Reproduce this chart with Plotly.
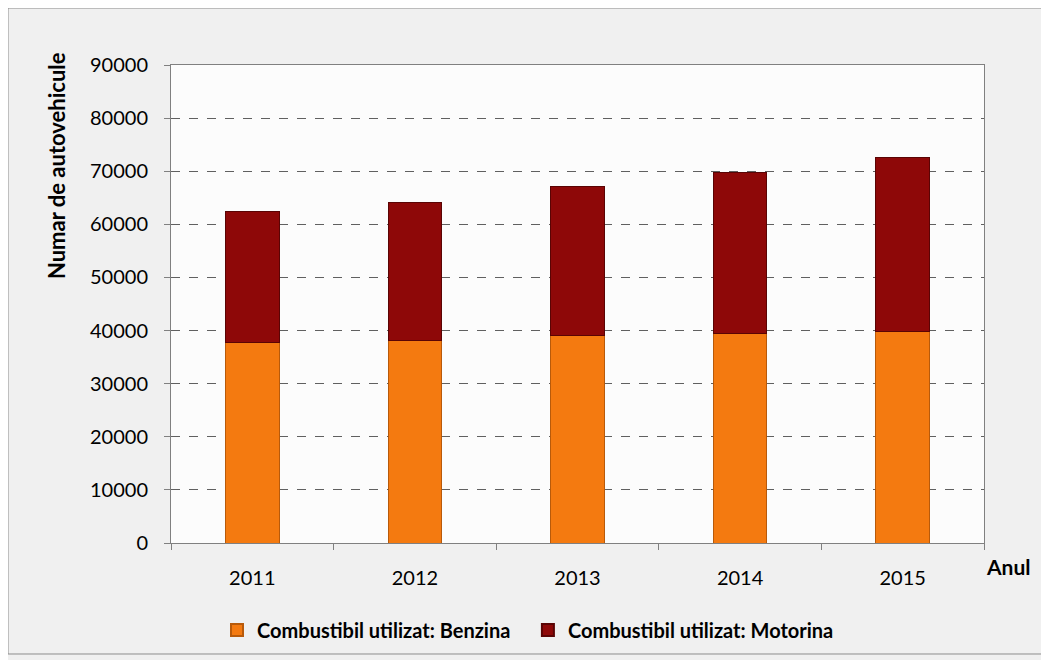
import plotly.graph_objects as go

years = ["2011", "2012", "2013", "2014", "2015"]
benzina = [37800, 38200, 39000, 39500, 39900]
motorina = [24700, 26000, 28200, 30350, 32600]
y_ticks = [0, 10000, 20000, 30000, 40000, 50000, 60000, 70000, 80000, 90000]

FONT = "Lato"

fig = go.Figure()
fig.add_trace(go.Bar(
    x=years, y=benzina, name="Combustibil utilizat: Benzina",
    marker=dict(color="#F47A10", line=dict(color="#B85A0A", width=1)),
    width=0.33, legend="legend",
))
fig.add_trace(go.Bar(
    x=years, y=motorina, name="Combustibil utilizat: Motorina",
    marker=dict(color="#8E0808", line=dict(color="#5A0404", width=1)),
    width=0.33, legend="legend2",
))

legend_font = dict(family=FONT, size=20, color="#000000", weight="bold")

# page body adds an 8px offset, margins compensate for it
fig.update_layout(
    barmode="stack",
    width=1049, height=660,
    margin=dict(l=163, r=73, t=57, b=125, autoexpand=False),
    paper_bgcolor="#F0F0F0",
    plot_bgcolor="#FCFCFC",
    font=dict(family=FONT, size=20, color="#000000"),
    showlegend=True,
    legend=dict(orientation="h", x=0.0566, y=-0.182, xanchor="left", yanchor="middle",
                font=legend_font, bgcolor="rgba(0,0,0,0)", itemsizing="constant",
                itemwidth=30),
    legend2=dict(orientation="h", x=0.439, y=-0.182, xanchor="left", yanchor="middle",
                 font=legend_font, bgcolor="rgba(0,0,0,0)", itemsizing="constant",
                 itemwidth=30),
    xaxis=dict(
        type="category", showgrid=False, ticks="outside", tickson="boundaries",
        ticklen=6, tickcolor="#808080", showline=True, linecolor="#808080", linewidth=1,
        mirror=True, tickfont=dict(family=FONT, size=20), ticklabelstandoff=17,
    ),
    yaxis=dict(
        range=[0, 90000], tickvals=y_ticks, ticktext=[str(v) for v in y_ticks],
        showgrid=True, gridcolor="#606060", griddash="dash", gridwidth=1,
        ticks="outside", ticklen=6, tickcolor="#808080",
        showline=True, linecolor="#808080", linewidth=1, mirror=True,
        zeroline=False, tickfont=dict(family=FONT, size=20), ticklabelstandoff=12,
    ),
    annotations=[
        dict(text="<b>Numar de autovehicule</b>", xref="paper", yref="paper",
             x=-0.140, y=0.789, textangle=-90, showarrow=False,
             font=dict(family=FONT, size=22), xanchor="center", yanchor="middle"),
        dict(text="<b>Anul</b>", xref="paper", yref="paper",
             x=1.0295, y=-0.050, showarrow=False,
             font=dict(family=FONT, size=21), xanchor="center", yanchor="middle"),
    ],
    shapes=[
        dict(type="rect", xref="paper", yref="paper",
             x0=-0.2005, x1=1.0713, y0=-0.2322, y1=1.1192,
             line=dict(color="#8C8C8C", width=1), fillcolor="rgba(0,0,0,0)", layer="below"),
    ],
)

fig.write_html("out.html")
